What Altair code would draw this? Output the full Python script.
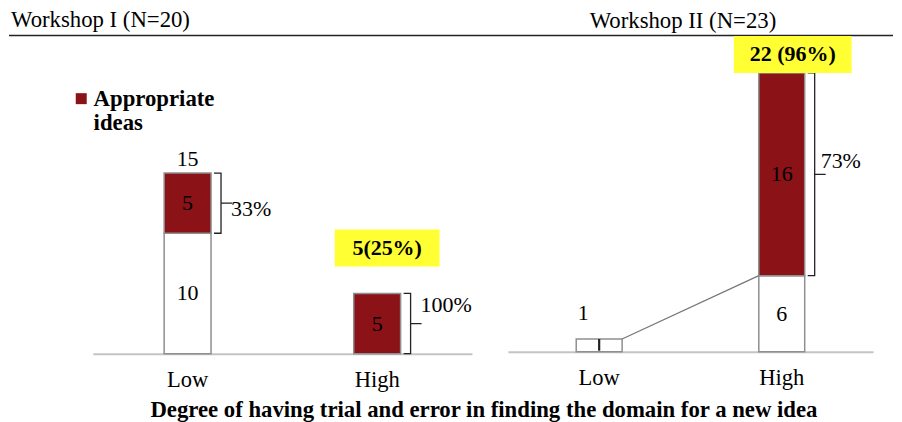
import altair as alt
import pandas as pd

# ---------------- data ----------------
levels = ["Low", "High"]
series = ["Appropriate ideas", "Other ideas"]

w1_header = "Workshop I (N=20)"
w1_other = [10, 0]
w1_appr = [5, 5]
w1_total_labels = ["15", ""]
w1_pct = ["33%", "100%"]
w1_callout = ["", "5(25%)"]

w2_header = "Workshop II (N=23)"
w2_other = [1, 6]
w2_appr = [0, 16]
w2_total_labels = ["", ""]
w2_pct = ["", "73%"]
w2_callout = ["", "22 (96%)"]

x_title = "Degree of having trial and error in finding the domain for a new idea"

# ---------------- style ----------------
FONT = "Liberation Serif"
RED = "#8b1217"
EDGE = "#8f8f8f"
FS = 22
FS_T = 22.8


def panel(header, header_dx, others, apprs, total_labels, pcts, pct_dy, pct_dx,
          callouts, callout_dx, callout_gap, box_w, bar_w, width, height, ymax,
          top_rule=False, connector=False, legend=False):
    half = bar_w / 2
    step_half = width / 4  # band centre offset used by offset-channel layers
    xenc = alt.X("cat:N", sort=levels,
                 scale=alt.Scale(domain=levels, paddingInner=0, paddingOuter=0),
                 axis=alt.Axis(title=None, ticks=False, labelAngle=0, domainColor="#c4c4c4",
                               domainWidth=2, labelFont=FONT, labelFontSize=22.6,
                               labelColor="black", labelPadding=15, grid=False))
    xc = alt.X("cat:N", sort=levels)
    yscale = alt.Scale(domain=[0, ymax], nice=False, zero=True)

    seg_rows, lab_rows, small_rows, tot_rows, pct_rows, brace_rows, call_rows = [], [], [], [], [], [], []
    for i, c in enumerate(levels):
        o, a = others[i], apprs[i]
        tot = o + a
        for s, y0, y1 in ((series[1], 0, o), (series[0], o, tot)):
            if y1 > y0:
                seg_rows.append(dict(cat=c, series=s, y0=y0, y1=y1))
                v = y1 - y0
                if v >= 2:
                    lab_rows.append(dict(cat=c, y=(y0 + y1) / 2, t=str(v)))
                else:
                    small_rows.append(dict(cat=c, y=y1, y0=y0, t=str(v)))
        if total_labels[i]:
            tot_rows.append(dict(cat=c, y=tot, t=total_labels[i]))
        if pcts[i]:
            mid = (o + tot) / 2
            pct_rows.append((pct_dy[i], dict(cat=c, y=mid, t=pcts[i])))
            pts = [(3, tot, 0), (6.5, tot, 0.6), (9, tot, 2.5), (10, tot, 6),
                   (10, mid, -5), (10.8, mid, -2), (13, mid, -0.4), (21, mid, 0),
                   (13, mid, 0.4), (10.8, mid, 2), (10, mid, 5),
                   (10, o, -6), (9, o, -2.5), (6.5, o, -0.6), (3, o, 0)]
            for k, (dx, yv, dy) in enumerate(pts):
                brace_rows.append(dict(cat=c, y=yv, dx=step_half + half + dx, dy=dy, k=k))
        if callouts[i]:
            call_rows.append(dict(cat=c, y=tot, t=callouts[i]))

    color = alt.Color("series:N",
                      scale=alt.Scale(domain=series, range=[RED, "white"]),
                      legend=alt.Legend(values=[series[0]], title=None, orient="none",
                                        legendX=-23, legendY=52, padding=0,
                                        labelExpr="split(datum.label, ' ')",
                                        labelFont=FONT, labelFontSize=FS_T, labelFontWeight="bold",
                                        labelColor="black", labelLimit=0, labelOffset=1,
                                        symbolType="square",
                                        symbolSize=121, symbolStrokeWidth=0,
                                        symbolFillColor=RED) if legend else None)

    layers = []
    bars = alt.Chart(pd.DataFrame(seg_rows)).mark_bar(size=bar_w, stroke=EDGE, strokeWidth=1.5).encode(
        x=xenc, y=alt.Y("y0:Q", scale=yscale, axis=None), y2="y1:Q", color=color)
    layers.append(bars)
    layers.append(alt.Chart(pd.DataFrame(lab_rows)).mark_text(font=FONT, fontSize=FS, color="black").encode(
        x=xc, y="y:Q", text="t:N"))
    if small_rows:
        sdf = pd.DataFrame(small_rows)
        layers.append(alt.Chart(sdf).mark_text(font=FONT, fontSize=FS, color="black", dx=-16, dy=-26).encode(
            x=xc, y="y:Q", text="t:N"))
        layers.append(alt.Chart(sdf).mark_rule(color="#222", strokeWidth=2.2, yOffset=-1).encode(
            x=xc, y="y0:Q", y2=alt.Y2("y")))
    if tot_rows:
        layers.append(alt.Chart(pd.DataFrame(tot_rows)).mark_text(font=FONT, fontSize=FS, color="black", dy=-14).encode(
            x=xc, y="y:Q", text="t:N"))
    if brace_rows:
        layers.append(alt.Chart(pd.DataFrame(brace_rows)).mark_line(color="#222", strokeWidth=1.3).encode(
            x=xc, y="y:Q",
            xOffset=alt.XOffset("dx:Q", scale=None), yOffset=alt.YOffset("dy:Q", scale=None),
            detail="cat:N", order="k:Q"))
        for dy, row in pct_rows:
            layers.append(alt.Chart(pd.DataFrame([row])).mark_text(
                font=FONT, fontSize=FS, color="black", align="left", dx=half + pct_dx, dy=dy).encode(
                x=xc, y="y:Q", text="t:N"))
    if call_rows:
        cdf = pd.DataFrame(call_rows)
        layers.append(alt.Chart(cdf).mark_bar(size=box_w, color="#ffff33", xOffset=callout_dx,
                                               yOffset=-(callout_gap + 37), y2Offset=-callout_gap).encode(
            x=xc, y="y:Q", y2="y:Q"))
        layers.append(alt.Chart(cdf).mark_text(font=FONT, fontSize=FS, fontWeight="bold", color="black",
                                                dx=callout_dx, dy=-(callout_gap + 18.5)).encode(
            x=xc, y="y:Q", text="t:N"))
    if connector:
        con = pd.DataFrame([dict(cat=levels[0], y=others[0], dx=step_half + half, k=0),
                            dict(cat=levels[1], y=others[1], dx=step_half - half, k=1)])
        layers.append(alt.Chart(con).mark_line(color="#777", strokeWidth=1.3).encode(
            x=xc, y="y:Q", xOffset=alt.XOffset("dx:Q", scale=None), order="k:Q"))
    if top_rule:
        layers.append(alt.Chart(pd.DataFrame({"a": [0]})).mark_rule(color="#222", strokeWidth=1.5).encode(
            x=alt.value(-84), x2=alt.value(802), y=alt.value(0)))

    return alt.layer(*layers).properties(
        width=width, height=height,
        title=alt.TitleParams(header, anchor="start", frame="group", dx=header_dx, font=FONT, fontSize=FS_T,
                              fontWeight="normal", color="black", offset=3))


left = panel(w1_header, -82, w1_other, w1_appr, w1_total_labels, w1_pct, [6, -19], 20,
             w1_callout, 10, 27, 105, 47, 380, 319, 319 / 12.07, top_rule=True, legend=True)
right = panel(w2_header, 82, w2_other, w2_appr, w2_total_labels, w2_pct, [0, -13], 16,
              w2_callout, 11, 0, 118, 46, 366, 317, 317 / 12.7, connector=True)

chart = alt.hconcat(left, right, spacing=36, bounds="flush").properties(
    padding=0,
    title=alt.TitleParams(x_title, orient="bottom", anchor="middle", font=FONT, fontSize=FS_T,
                          fontWeight="bold", color="black", offset=8, dx=33)
).configure(font=FONT, view=alt.ViewConfig(stroke=None))

chart.save("out.html", embed_options={"renderer": "svg", "actions": False})
